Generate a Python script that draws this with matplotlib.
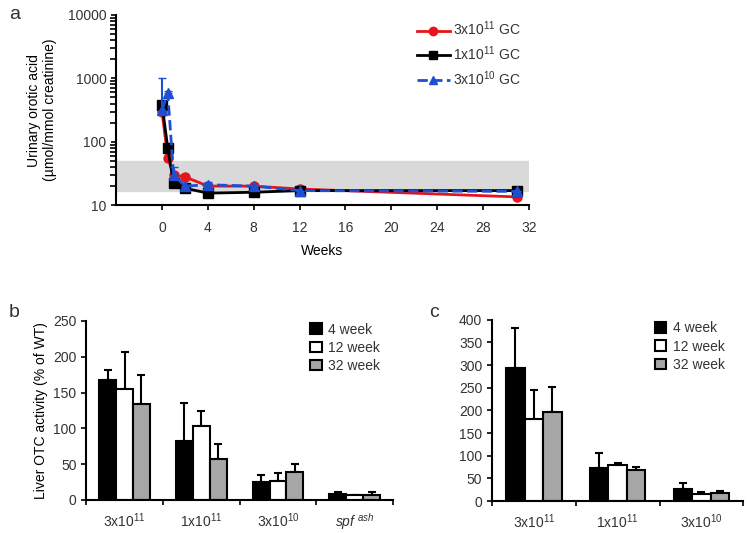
import numpy as np
import matplotlib
matplotlib.use("Agg")
import matplotlib.pyplot as plt
from matplotlib.lines import Line2D
from matplotlib.ticker import NullFormatter, FixedLocator

plt.rcParams["font.family"] = ["Liberation Sans", "DejaVu Sans"]
plt.rcParams["mathtext.fontset"] = "custom"
plt.rcParams["mathtext.rm"] = "Liberation Sans"
plt.rcParams["mathtext.it"] = "Liberation Sans:italic"
plt.rcParams["mathtext.default"] = "regular"
plt.rcParams["text.color"] = "#333333"
plt.rcParams["xtick.color"] = "black"
plt.rcParams["ytick.color"] = "black"
plt.rcParams["xtick.labelcolor"] = "#333333"
plt.rcParams["ytick.labelcolor"] = "#333333"

# -----------------------------
# Panel a data (urinary orotic acid)
# -----------------------------
weeks = [0, 0.5, 1, 2, 4, 8, 12, 31]
oa_3e11 = [290, 55, 30, 28, 20, 20, 18, 13.5]
oa_3e11_err = [0, 0, 0, 3, 0, 0, 0, 0]
oa_1e11 = [380, 79, 22, 18.5, 15.5, 16, 17, 17]
oa_1e11_err = [0, 0, 0, 0, 0, 0, 0, 0]
oa_3e10 = [320, 580, 30, 20, 21, 20, 17, 16.5]
oa_3e10_err = [680, 60, 10, 0, 2.5, 0, 0, 0]
normal_range = (17, 50)

# -----------------------------
# Panel b / c data (liver OTC activity)
# -----------------------------
groups_b = ["3x10$^{11}$", "1x10$^{11}$", "3x10$^{10}$", "$\\mathit{spf}^{\\ \\mathit{ash}}$"]
b_4wk = [167, 82, 24.5, 8.8]
b_4wk_err = [15, 54, 11, 2.8]
b_12wk = [155, 103, 27, 6.5]
b_12wk_err = [52, 21, 10, 1]
b_32wk = [134.5, 56.5, 39, 7.4]
b_32wk_err = [39.5, 21, 11, 4.2]

groups_c = ["3x10$^{11}$", "1x10$^{11}$", "3x10$^{10}$"]
c_4wk = [294, 73, 26.5]
c_4wk_err = [87, 33, 14]
c_12wk = [181, 79, 14.8]
c_12wk_err = [64, 5, 5]
c_32wk = [196, 68, 18.5]
c_32wk_err = [56, 7, 3]

series_labels = ["4 week", "12 week", "32 week"]
series_colors = ["black", "white", "#a6a6a6"]

fig = plt.figure(figsize=(7.5, 5.33), dpi=100)

# -----------------------------
# Panel a
# -----------------------------
ax = fig.add_axes([0.155, 0.615, 0.55, 0.357])
ax.axhspan(normal_range[0], normal_range[1], color="#d9d9d9", zorder=0)

lines_a = [
    (oa_3e11, oa_3e11_err, "#e8141c", "o", "-", "3x10$^{11}$ GC", 3),
    (oa_1e11, oa_1e11_err, "black", "s", "-", "1x10$^{11}$ GC", 4),
    (oa_3e10, oa_3e10_err, "#1f4fd1", "^", "--", "3x10$^{10}$ GC", 5),
]
handles = []
for vals, errs, col, mk, ls, lab, z in lines_a:
    ax.errorbar(weeks, vals, yerr=[np.zeros(len(weeks)), errs], color=col, marker=mk,
                markersize=6.5, lw=2, ls=ls, capsize=3, elinewidth=1.5, zorder=z)
    handles.append(Line2D([], [], color=col, marker=mk, markersize=6, lw=2, ls=ls, label=lab))

ax.set_yscale("log")
ax.set_ylim(10, 10000)
ax.set_xlim(-4, 32)
ax.set_xticks(range(0, 33, 4))
ax.set_yticks([10, 100, 1000, 10000])
ax.set_yticklabels(["10", "100", "1000", "10000"])
minor_y = [m * 10 ** k for k in (1, 2, 3) for m in range(2, 10)]
ax.yaxis.set_minor_locator(FixedLocator(minor_y))
ax.yaxis.set_minor_formatter(NullFormatter())
ax.spines["top"].set_visible(False)
ax.spines["right"].set_visible(False)
ax.spines["left"].set_linewidth(1.5)
ax.spines["bottom"].set_linewidth(1.5)
ax.tick_params(labelsize=10, width=1.2)
ax.tick_params(axis="y", which="minor", length=4, width=1.2, left=True, color="black")
ax.tick_params(axis="x", pad=8)
ax.set_xlabel("Weeks", fontsize=10, labelpad=6)
ax.set_ylabel("Urinary orotic acid\n(µmol/mmol creatinine)", fontsize=10, labelpad=8)
ax.legend(handles=handles, loc="upper right", bbox_to_anchor=(1.01, 1.04), frameon=False,
          fontsize=10, handlelength=2.4, handletextpad=0.2, labelspacing=0.45)
fig.text(0.012, 0.965, "a", fontsize=14)


def bar_panel(ax, groups, s1, e1, s2, e2, s3, e3, ymax, ystep, legend_anchor):
    x = np.arange(len(groups))
    w = 0.22
    for i, (vals, errs) in enumerate([(s1, e1), (s2, e2), (s3, e3)]):
        pos = x + (i - 1) * w
        ax.bar(pos, vals, w, color=series_colors[i], edgecolor="black", linewidth=1.5,
               label=series_labels[i], zorder=2)
        ax.errorbar(pos, vals, yerr=[np.zeros(len(vals)), errs], fmt="none", ecolor="black",
                    elinewidth=1.5, capsize=3, capthick=1.5, zorder=1)
    ax.set_xlim(-0.5, len(groups) - 0.5)
    ax.set_ylim(0, ymax)
    ax.set_yticks(np.arange(0, ymax + 1, ystep))
    ax.set_xticks(np.arange(-0.5, len(groups)), minor=False)
    ax.set_xticklabels([])
    ax.set_xticks(x, minor=True)
    ax.set_xticklabels(groups, minor=True)
    ax.tick_params(axis="x", which="minor", length=0, pad=8)
    ax.tick_params(labelsize=10, width=1.2)
    ax.spines["top"].set_visible(False)
    ax.spines["right"].set_visible(False)
    ax.spines["left"].set_linewidth(1.5)
    ax.spines["bottom"].set_linewidth(1.5)
    ax.legend(loc="upper left", bbox_to_anchor=legend_anchor, frameon=False, fontsize=10,
              handlelength=0.8, handleheight=0.8, handletextpad=0.5, labelspacing=0.3)


# -----------------------------
# Panel b
# -----------------------------
axb = fig.add_axes([0.115, 0.062, 0.409, 0.336])
bar_panel(axb, groups_b, b_4wk, b_4wk_err, b_12wk, b_12wk_err, b_32wk, b_32wk_err, 250, 50,
          (0.69, 1.06))
axb.set_ylabel("Liver OTC activity (% of WT)", fontsize=10)
fig.text(0.012, 0.405, "b", fontsize=14)

# -----------------------------
# Panel c
# -----------------------------
axc = fig.add_axes([0.656, 0.06, 0.335, 0.34])
bar_panel(axc, groups_c, c_4wk, c_4wk_err, c_12wk, c_12wk_err, c_32wk, c_32wk_err, 400, 50,
          (0.6, 1.06))
fig.text(0.572, 0.405, "c", fontsize=14)

fig.savefig("out.png", dpi=100)
